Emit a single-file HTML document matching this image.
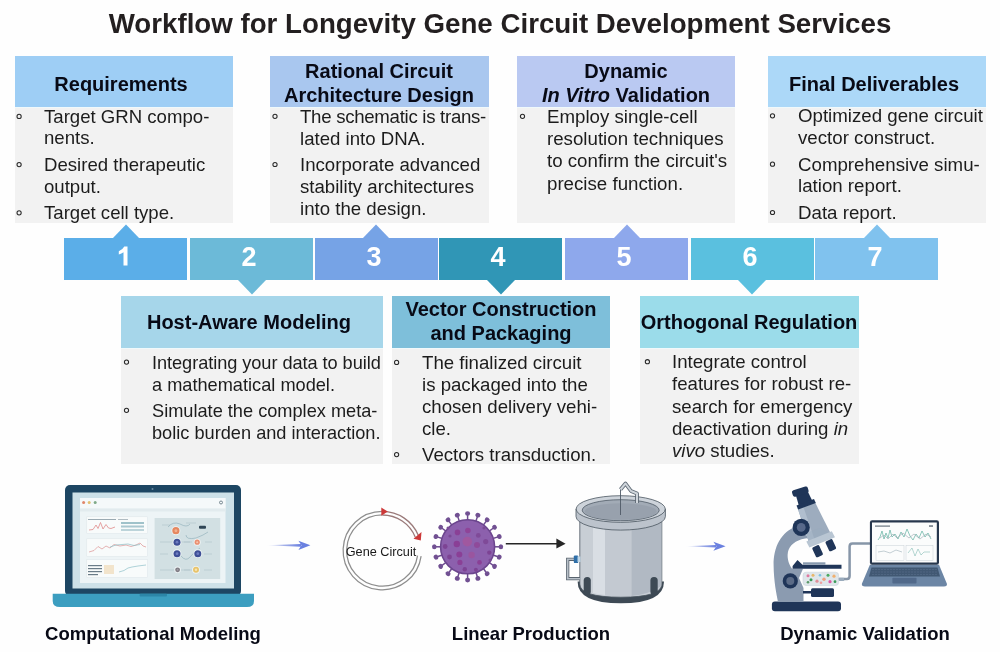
<!DOCTYPE html>
<html><head><meta charset="utf-8"><style>
html,body{margin:0;padding:0;}
body{width:1000px;height:652px;position:relative;overflow:hidden;background:#fefefe;font-family:"Liberation Sans", sans-serif;}
.t{position:absolute;line-height:1;white-space:nowrap;will-change:transform;}
.r{position:absolute;}
.s{position:absolute;overflow:visible;}
.b{position:absolute;width:3.2px;height:3.2px;border:1px solid #2a2a2a;border-radius:50%;}
</style></head><body>
<div class="t" style="left:99.50px;width:800px;text-align:center;top:10.35px;font-size:27.7px;font-weight:700;color:#231f20;">Workflow for Longevity Gene Circuit Development Services</div><div class="r" style="left:14.5px;top:56.3px;width:218.00px;height:50.70px;background:#9ecef5;"></div><div class="r" style="left:14.5px;top:107px;width:218.00px;height:116.20px;background:#f2f2f2;"></div><div class="r" style="left:14.5px;top:106.6px;width:218.00px;height:1.60px;background:rgba(240,250,253,0.85);"></div><div class="t" style="left:-279.30px;width:800px;text-align:center;top:73.67px;font-size:20px;font-weight:700;color:#080a16;">Requirements</div><div class="t" style="left:44.00px;top:107.85px;font-size:18.6px;font-weight:400;color:#1c1c1c;">Target GRN compo-</div><div class="t" style="left:44.00px;top:129.45px;font-size:18.6px;font-weight:400;color:#1c1c1c;">nents.</div><div class="t" style="left:44.00px;top:156.05px;font-size:18.6px;font-weight:400;color:#1c1c1c;">Desired therapeutic</div><div class="t" style="left:44.00px;top:177.65px;font-size:18.6px;font-weight:400;color:#1c1c1c;">output.</div><div class="t" style="left:44.00px;top:204.25px;font-size:18.6px;font-weight:400;color:#1c1c1c;">Target cell type.</div><div class="r" style="left:270px;top:56.3px;width:218.50px;height:50.70px;background:#a9c7ef;"></div><div class="r" style="left:270px;top:107px;width:218.50px;height:116.20px;background:#f2f2f2;"></div><div class="r" style="left:270px;top:106.6px;width:218.50px;height:1.60px;background:rgba(240,250,253,0.85);"></div><div class="t" style="left:-20.75px;width:800px;text-align:center;top:60.57px;font-size:20px;font-weight:700;color:#080a16;">Rational Circuit</div><div class="t" style="left:-20.75px;width:800px;text-align:center;top:84.57px;font-size:20px;font-weight:700;color:#080a16;">Architecture Design</div><div class="t" style="left:299.50px;top:107.71px;font-size:18.65px;font-weight:400;color:#1c1c1c;letter-spacing:-0.29px;">The schematic is trans-</div><div class="t" style="left:299.50px;top:129.81px;font-size:18.65px;font-weight:400;color:#1c1c1c;">lated into DNA.</div><div class="t" style="left:299.50px;top:155.91px;font-size:18.65px;font-weight:400;color:#1c1c1c;">Incorporate advanced</div><div class="t" style="left:299.50px;top:178.01px;font-size:18.65px;font-weight:400;color:#1c1c1c;">stability architectures</div><div class="t" style="left:299.50px;top:200.11px;font-size:18.65px;font-weight:400;color:#1c1c1c;">into the design.</div><div class="r" style="left:517px;top:56.3px;width:218.00px;height:50.70px;background:#bac9f2;"></div><div class="r" style="left:517px;top:107px;width:218.00px;height:116.20px;background:#f2f2f2;"></div><div class="r" style="left:517px;top:106.6px;width:218.00px;height:1.60px;background:rgba(240,250,253,0.85);"></div><div class="t" style="left:226.00px;width:800px;text-align:center;top:60.57px;font-size:20px;font-weight:700;color:#080a16;">Dynamic</div><div class="t" style="left:226.00px;width:800px;text-align:center;top:84.57px;font-size:20px;font-weight:700;color:#080a16;"><i>In Vitro</i> Validation</div><div class="t" style="left:546.50px;top:107.67px;font-size:18.7px;font-weight:400;color:#1c1c1c;">Employ single-cell</div><div class="t" style="left:546.50px;top:129.97px;font-size:18.7px;font-weight:400;color:#1c1c1c;">resolution techniques</div><div class="t" style="left:546.50px;top:152.27px;font-size:18.7px;font-weight:400;color:#1c1c1c;">to confirm the circuit's</div><div class="t" style="left:546.50px;top:174.57px;font-size:18.7px;font-weight:400;color:#1c1c1c;">precise function.</div><div class="r" style="left:768px;top:56.3px;width:218.30px;height:50.70px;background:#acd8f8;"></div><div class="r" style="left:768px;top:107px;width:218.30px;height:116.20px;background:#f2f2f2;"></div><div class="r" style="left:768px;top:106.6px;width:218.30px;height:1.60px;background:rgba(240,250,253,0.85);"></div><div class="t" style="left:474.35px;width:800px;text-align:center;top:73.67px;font-size:20px;font-weight:700;color:#080a16;">Final Deliverables</div><div class="t" style="left:797.50px;top:107.17px;font-size:18.7px;font-weight:400;color:#1c1c1c;">Optimized gene circuit</div><div class="t" style="left:797.50px;top:128.97px;font-size:18.7px;font-weight:400;color:#1c1c1c;">vector construct.</div><div class="t" style="left:797.50px;top:155.52px;font-size:18.7px;font-weight:400;color:#1c1c1c;">Comprehensive simu-</div><div class="t" style="left:797.50px;top:177.32px;font-size:18.7px;font-weight:400;color:#1c1c1c;">lation report.</div><div class="t" style="left:797.50px;top:203.87px;font-size:18.7px;font-weight:400;color:#1c1c1c;">Data report.</div><div class="r" style="left:64px;top:237.6px;width:123.00px;height:42.60px;background:#5baee8;"></div><svg class="s" style="left:111.50px;top:223.5px" width="28" height="15"><polygon points="0,15 14,0.5 28,15" fill="#5baee8"/></svg><svg class="s" style="left:0;top:0" width="200" height="300"><path d="M124.3,246.4 H127.5 V265.5 H123.5 V252.3 Q121.6,253.8 118.8,254.6 V251.2 Q122.6,249.6 124.3,246.4 Z" fill="#ffffff"/></svg><div class="r" style="left:190px;top:237.6px;width:123.00px;height:42.60px;background:#6cbad8;"></div><svg class="s" style="left:237.50px;top:280px" width="28" height="15"><polygon points="0,0 14,14.5 28,0" fill="#6cbad8"/></svg><div class="t" style="left:-150.80px;width:800px;text-align:center;top:243.64px;font-size:27px;font-weight:700;color:#ffffff;">2</div><div class="r" style="left:314.5px;top:237.6px;width:123.00px;height:42.60px;background:#76a3e6;"></div><svg class="s" style="left:362.00px;top:223.5px" width="28" height="15"><polygon points="0,15 14,0.5 28,15" fill="#76a3e6"/></svg><div class="t" style="left:-26.30px;width:800px;text-align:center;top:243.64px;font-size:27px;font-weight:700;color:#ffffff;">3</div><div class="r" style="left:439.2px;top:237.6px;width:123.00px;height:42.60px;background:#3096b6;"></div><svg class="s" style="left:486.70px;top:280px" width="28" height="15"><polygon points="0,0 14,14.5 28,0" fill="#3096b6"/></svg><div class="t" style="left:98.40px;width:800px;text-align:center;top:243.64px;font-size:27px;font-weight:700;color:#ffffff;">4</div><div class="r" style="left:565px;top:237.6px;width:123.00px;height:42.60px;background:#8ea8ec;"></div><svg class="s" style="left:612.50px;top:223.5px" width="28" height="15"><polygon points="0,15 14,0.5 28,15" fill="#8ea8ec"/></svg><div class="t" style="left:224.20px;width:800px;text-align:center;top:243.64px;font-size:27px;font-weight:700;color:#ffffff;">5</div><div class="r" style="left:690.5px;top:237.6px;width:123.00px;height:42.60px;background:#5ac0df;"></div><svg class="s" style="left:738.00px;top:280px" width="28" height="15"><polygon points="0,0 14,14.5 28,0" fill="#5ac0df"/></svg><div class="t" style="left:349.70px;width:800px;text-align:center;top:243.64px;font-size:27px;font-weight:700;color:#ffffff;">6</div><div class="r" style="left:815.3px;top:237.6px;width:123.00px;height:42.60px;background:#80c2ee;"></div><svg class="s" style="left:862.80px;top:223.5px" width="28" height="15"><polygon points="0,15 14,0.5 28,15" fill="#80c2ee"/></svg><div class="t" style="left:474.50px;width:800px;text-align:center;top:243.64px;font-size:27px;font-weight:700;color:#ffffff;">7</div><div class="r" style="left:120.5px;top:296px;width:262.50px;height:52.00px;background:#a6d6ea;"></div><div class="r" style="left:120.5px;top:348px;width:262.50px;height:115.50px;background:#f2f2f2;"></div><div class="r" style="left:120.5px;top:347.9px;width:262.50px;height:1.50px;background:rgba(240,250,253,0.85);"></div><div class="t" style="left:-151.05px;width:800px;text-align:center;top:312.07px;font-size:20px;font-weight:700;color:#080a16;">Host-Aware Modeling</div><div class="t" style="left:151.50px;top:353.89px;font-size:18.2px;font-weight:400;color:#1c1c1c;letter-spacing:-0.06px;">Integrating your data to build</div><div class="t" style="left:151.50px;top:376.09px;font-size:18.2px;font-weight:400;color:#1c1c1c;">a mathematical model.</div><div class="t" style="left:151.50px;top:402.09px;font-size:18.2px;font-weight:400;color:#1c1c1c;">Simulate the complex meta-</div><div class="t" style="left:151.50px;top:424.29px;font-size:18.2px;font-weight:400;color:#1c1c1c;">bolic burden and interaction.</div><div class="r" style="left:392px;top:296px;width:218.00px;height:52.00px;background:#7ebfda;"></div><div class="r" style="left:392px;top:348px;width:218.00px;height:115.50px;background:#f2f2f2;"></div><div class="r" style="left:392px;top:347.9px;width:218.00px;height:1.50px;background:rgba(240,250,253,0.85);"></div><div class="t" style="left:101.00px;width:800px;text-align:center;top:299.27px;font-size:20px;font-weight:700;color:#080a16;">Vector Construction</div><div class="t" style="left:101.00px;width:800px;text-align:center;top:322.77px;font-size:20px;font-weight:700;color:#080a16;">and Packaging</div><div class="t" style="left:421.80px;top:353.81px;font-size:18.65px;font-weight:400;color:#1c1c1c;">The finalized circuit</div><div class="t" style="left:421.80px;top:375.81px;font-size:18.65px;font-weight:400;color:#1c1c1c;">is packaged into the</div><div class="t" style="left:421.80px;top:397.81px;font-size:18.65px;font-weight:400;color:#1c1c1c;">chosen delivery vehi-</div><div class="t" style="left:421.80px;top:419.81px;font-size:18.65px;font-weight:400;color:#1c1c1c;">cle.</div><div class="t" style="left:421.80px;top:446.01px;font-size:18.65px;font-weight:400;color:#1c1c1c;">Vectors transduction.</div><div class="r" style="left:640.2px;top:296px;width:218.50px;height:52.00px;background:#9bdcea;"></div><div class="r" style="left:640.2px;top:348px;width:218.50px;height:115.50px;background:#f2f2f2;"></div><div class="r" style="left:640.2px;top:347.9px;width:218.50px;height:1.50px;background:rgba(240,250,253,0.85);"></div><div class="t" style="left:349.45px;width:800px;text-align:center;top:311.77px;font-size:20px;font-weight:700;color:#080a16;">Orthogonal Regulation</div><div class="t" style="left:672.00px;top:353.11px;font-size:18.65px;font-weight:400;color:#1c1c1c;">Integrate control</div><div class="t" style="left:672.00px;top:375.31px;font-size:18.65px;font-weight:400;color:#1c1c1c;">features for robust re-</div><div class="t" style="left:672.00px;top:397.51px;font-size:18.65px;font-weight:400;color:#1c1c1c;">search for emergency</div><div class="t" style="left:672.00px;top:419.71px;font-size:18.65px;font-weight:400;color:#1c1c1c;">deactivation during <i>in</i></div><div class="t" style="left:672.00px;top:441.91px;font-size:18.65px;font-weight:400;color:#1c1c1c;"><i>vivo</i> studies.</div><div class="t" style="left:-247.00px;width:800px;text-align:center;top:625.34px;font-size:18.5px;font-weight:700;color:#080a16;">Computational Modeling</div><div class="t" style="left:131.00px;width:800px;text-align:center;top:625.34px;font-size:18.5px;font-weight:700;color:#080a16;">Linear Production</div><div class="t" style="left:465.00px;width:800px;text-align:center;top:625.34px;font-size:18.5px;font-weight:700;color:#080a16;">Dynamic Validation</div>
<svg style="position:absolute;left:0;top:0" width="1000" height="652"><g fill="none" stroke="#2a2a2a" stroke-width="1.05"><circle cx="19.10" cy="116.40" r="2.1"/><circle cx="19.10" cy="164.60" r="2.1"/><circle cx="19.10" cy="212.80" r="2.1"/><circle cx="275.00" cy="116.30" r="2.1"/><circle cx="275.00" cy="164.50" r="2.1"/><circle cx="522.50" cy="116.30" r="2.1"/><circle cx="772.50" cy="115.80" r="2.1"/><circle cx="772.50" cy="164.15" r="2.1"/><circle cx="772.50" cy="212.50" r="2.1"/><circle cx="126.50" cy="362.10" r="2.1"/><circle cx="126.50" cy="410.30" r="2.1"/><circle cx="396.60" cy="362.40" r="2.1"/><circle cx="396.60" cy="454.60" r="2.1"/><circle cx="647.40" cy="361.70" r="2.1"/></g></svg>
<svg style="position:absolute;left:0;top:0" width="1000" height="652" viewBox="0 0 1000 652">
<defs>
<linearGradient id="ag" x1="0" x2="1" y1="0" y2="0"><stop offset="0" stop-color="#6a7fdc" stop-opacity="0"/><stop offset="0.5" stop-color="#6a7fdc" stop-opacity="0.6"/><stop offset="1" stop-color="#6a80e0" stop-opacity="1"/></linearGradient>
<radialGradient id="vg" cx="0.5" cy="0.5" r="0.5"><stop offset="0" stop-color="#9466b0"/><stop offset="1" stop-color="#8a5ba8"/></radialGradient>
</defs>
<rect x="65" y="485" width="176" height="111" rx="5" fill="#1d4663"/>
<circle cx="152.5" cy="489" r="1" fill="#6a8aa0"/>
<rect x="72.5" y="492.5" width="161.5" height="96" fill="#cde1e8"/>
<rect x="80" y="498" width="145.5" height="85" fill="#edf4f6"/>
<rect x="80" y="498" width="145.5" height="10.5" fill="#f5f9fa"/>
<rect x="80" y="508.5" width="145.5" height="3" fill="#e2ebee"/>
<circle cx="83.6" cy="502.6" r="1.5" fill="#e0866a"/><circle cx="89.2" cy="502.6" r="1.5" fill="#e3c070"/><circle cx="95.2" cy="502.6" r="1.5" fill="#7faa88"/>
<circle cx="221" cy="502.5" r="1.5" fill="none" stroke="#5a6f7a" stroke-width="0.8"/>
<rect x="86.8" y="516.8" width="60.5" height="16.5" fill="#f8fbfb" stroke="#dde6e9" stroke-width="0.5"/>
<rect x="86.8" y="538.8" width="60.5" height="17.6" fill="#f8fbfb" stroke="#dde6e9" stroke-width="0.5"/>
<rect x="86.8" y="559.7" width="60.5" height="17.6" fill="#f8fbfb" stroke="#dde6e9" stroke-width="0.5"/>
<rect x="88" y="519" width="28" height="1" fill="#9aaab2"/><rect x="118" y="519" width="10" height="1" fill="#b0bcc2"/>
<polyline points="89,530 93,529.5 96,525 98,528.5 100.5,522.5 103,529 106,524.5 108.5,528 111,528.5 115,527" fill="none" stroke="#e08a8a" stroke-width="0.8"/>
<rect x="121" y="522" width="23" height="2" fill="#9fc2ca"/><rect x="121" y="525.5" width="23" height="2" fill="#a9c8d0"/><rect x="121" y="529" width="23" height="2" fill="#bcd4da"/>
<polyline points="89,552 94,550.5 98,546.5 102,549 106,546 110,548 114,544.5 120,546 126,545 131,546.5 136,545 140,543 143,546 146,547" fill="none" stroke="#e0a0a0" stroke-width="0.8"/>
<polyline points="110,547 116,545 122,544.5 128,544 134,545.5 140,544.5" fill="none" stroke="#8cbec6" stroke-width="0.7"/>
<rect x="88" y="565" width="14" height="1.2" fill="#6a7c88"/><rect x="88" y="568" width="14" height="1.2" fill="#6a7c88"/><rect x="88" y="571" width="14" height="1.2" fill="#6a7c88"/><rect x="88" y="574" width="10" height="1.2" fill="#6a7c88"/><rect x="104" y="565" width="10" height="9" fill="#f2e4cc"/>
<polyline points="119,572 124,570.5 128,568 132,567 138,566 146,565" fill="none" stroke="#8ec0c8" stroke-width="0.7"/>
<rect x="154.6" y="518" width="65.6" height="61" fill="#d2e0e3"/>
<path d="M162,525 H170 M186,523 H196 M160,542 H168 M184,542 H192 M205,542 H212 M160,554 H168 M204,554 H212 M160,570 H170 M184,570 H192 M204,570 H212 M170,570 H190 M168,542 H190" stroke="#9fb3ba" stroke-width="0.4"/>
<path d="M168,527 Q173,521 180,524 Q187,528 190,524 M186,535 Q186,540 196,538 Q204,535 208,532 M181,556 Q186,562 190,557 Q194,552 200,548" fill="none" stroke="#7fa3ae" stroke-width="0.5"/>
<circle cx="175.9" cy="530.7" r="4.5" fill="#eef4f5"/><circle cx="175.9" cy="530.7" r="3.6" fill="#e5875f"/><circle cx="175.9" cy="530.7" r="1.44" fill="#f2b08f"/>
<circle cx="177" cy="542.2" r="4.4" fill="#eef4f5"/><circle cx="177" cy="542.2" r="3.5" fill="#3e4f96"/><circle cx="177" cy="542.2" r="1.40" fill="#6d7cc0"/>
<circle cx="197.2" cy="542.2" r="3.5" fill="#eef4f5"/><circle cx="197.2" cy="542.2" r="2.6" fill="#ea8f70"/><circle cx="197.2" cy="542.2" r="1.04" fill="#f6c4ad"/>
<circle cx="177" cy="553.7" r="4.4" fill="#eef4f5"/><circle cx="177" cy="553.7" r="3.5" fill="#3e4f96"/><circle cx="177" cy="553.7" r="1.40" fill="#6d7cc0"/>
<circle cx="197.8" cy="553.7" r="4.4" fill="#eef4f5"/><circle cx="197.8" cy="553.7" r="3.5" fill="#3e4f96"/><circle cx="197.8" cy="553.7" r="1.40" fill="#6d7cc0"/>
<circle cx="177.6" cy="569.8" r="3.3" fill="#eef4f5"/><circle cx="177.6" cy="569.8" r="2.4" fill="#7d7a82"/><circle cx="177.6" cy="569.8" r="0.96" fill="#a09ca4"/>
<circle cx="196" cy="569.8" r="3.9" fill="#eef4f5"/><circle cx="196" cy="569.8" r="3.0" fill="#e8c36a"/><circle cx="196" cy="569.8" r="1.20" fill="#f6e4b4"/>
<rect x="199" y="525.8" width="7" height="3" rx="1" fill="#2f4555"/>
<path d="M52.7,593.8 H254 V601 Q254,607 247,607 H60 Q52.7,607 52.7,601 Z" fill="#3c9ec0"/>
<rect x="139.6" y="593.8" width="27.4" height="2.6" rx="1" fill="#2c86a8"/>
<polygon points="266.4,545.3 301,543.9 301,546.7" fill="url(#ag)"/>
<polygon points="298.4,540.8 310.4,545.3 298.4,549.9 301.5,545.3" fill="#6a80e0"/>
<path d="M421.12,556.06 A39.2,39.2 0 1 1 382.30,511.40" fill="none" stroke="#8e8e8e" stroke-width="1.25"/>
<path d="M382.30,511.40 A39.2,39.2 0 0 1 418.65,535.92" fill="none" stroke="#9a7a7a" stroke-width="1.3"/>
<path d="M417.55,555.55 A35.6,35.6 0 1 1 382.30,515.00" fill="none" stroke="#8e8e8e" stroke-width="1.25"/>
<path d="M382.30,515.00 A35.6,35.6 0 0 1 415.31,537.26" fill="none" stroke="#9a7a7a" stroke-width="1.3"/>
<polygon points="381.3,507.6 387.8,511.6 381.3,515.8" fill="#cc3838"/>
<polygon points="413.5,538.8 421.5,532 420.8,540.5" fill="#cc3838"/>
<text x="381" y="556.3" font-family="Liberation Sans" font-size="12.7" text-anchor="middle" fill="#1a1a1a">Gene Circuit</text>
<line x1="467.60" y1="521.80" x2="467.60" y2="514.80" stroke="#6d4a8f" stroke-width="1.5"/>
<ellipse cx="467.60" cy="513.50" rx="2.3" ry="2.5" transform="rotate(-90.0 467.60 513.50)" fill="#715092"/>
<line x1="475.33" y1="523.02" x2="477.49" y2="516.37" stroke="#6d4a8f" stroke-width="1.5"/>
<ellipse cx="477.89" cy="515.13" rx="2.3" ry="2.5" transform="rotate(-72.0 477.89 515.13)" fill="#715092"/>
<line x1="482.29" y1="526.57" x2="486.41" y2="520.91" stroke="#6d4a8f" stroke-width="1.5"/>
<ellipse cx="487.17" cy="519.86" rx="2.3" ry="2.5" transform="rotate(-54.0 487.17 519.86)" fill="#715092"/>
<line x1="487.83" y1="532.11" x2="493.49" y2="527.99" stroke="#6d4a8f" stroke-width="1.5"/>
<ellipse cx="494.54" cy="527.23" rx="2.3" ry="2.5" transform="rotate(-36.0 494.54 527.23)" fill="#715092"/>
<line x1="491.38" y1="539.07" x2="498.03" y2="536.91" stroke="#6d4a8f" stroke-width="1.5"/>
<ellipse cx="499.27" cy="536.51" rx="2.3" ry="2.5" transform="rotate(-18.0 499.27 536.51)" fill="#715092"/>
<line x1="492.60" y1="546.80" x2="499.60" y2="546.80" stroke="#6d4a8f" stroke-width="1.5"/>
<ellipse cx="500.90" cy="546.80" rx="2.3" ry="2.5" transform="rotate(0.0 500.90 546.80)" fill="#715092"/>
<line x1="491.38" y1="554.53" x2="498.03" y2="556.69" stroke="#6d4a8f" stroke-width="1.5"/>
<ellipse cx="499.27" cy="557.09" rx="2.3" ry="2.5" transform="rotate(18.0 499.27 557.09)" fill="#715092"/>
<line x1="487.83" y1="561.49" x2="493.49" y2="565.61" stroke="#6d4a8f" stroke-width="1.5"/>
<ellipse cx="494.54" cy="566.37" rx="2.3" ry="2.5" transform="rotate(36.0 494.54 566.37)" fill="#715092"/>
<line x1="482.29" y1="567.03" x2="486.41" y2="572.69" stroke="#6d4a8f" stroke-width="1.5"/>
<ellipse cx="487.17" cy="573.74" rx="2.3" ry="2.5" transform="rotate(54.0 487.17 573.74)" fill="#715092"/>
<line x1="475.33" y1="570.58" x2="477.49" y2="577.23" stroke="#6d4a8f" stroke-width="1.5"/>
<ellipse cx="477.89" cy="578.47" rx="2.3" ry="2.5" transform="rotate(72.0 477.89 578.47)" fill="#715092"/>
<line x1="467.60" y1="571.80" x2="467.60" y2="578.80" stroke="#6d4a8f" stroke-width="1.5"/>
<ellipse cx="467.60" cy="580.10" rx="2.3" ry="2.5" transform="rotate(90.0 467.60 580.10)" fill="#715092"/>
<line x1="459.87" y1="570.58" x2="457.71" y2="577.23" stroke="#6d4a8f" stroke-width="1.5"/>
<ellipse cx="457.31" cy="578.47" rx="2.3" ry="2.5" transform="rotate(108.0 457.31 578.47)" fill="#715092"/>
<line x1="452.91" y1="567.03" x2="448.79" y2="572.69" stroke="#6d4a8f" stroke-width="1.5"/>
<ellipse cx="448.03" cy="573.74" rx="2.3" ry="2.5" transform="rotate(126.0 448.03 573.74)" fill="#715092"/>
<line x1="447.37" y1="561.49" x2="441.71" y2="565.61" stroke="#6d4a8f" stroke-width="1.5"/>
<ellipse cx="440.66" cy="566.37" rx="2.3" ry="2.5" transform="rotate(144.0 440.66 566.37)" fill="#715092"/>
<line x1="443.82" y1="554.53" x2="437.17" y2="556.69" stroke="#6d4a8f" stroke-width="1.5"/>
<ellipse cx="435.93" cy="557.09" rx="2.3" ry="2.5" transform="rotate(162.0 435.93 557.09)" fill="#715092"/>
<line x1="442.60" y1="546.80" x2="435.60" y2="546.80" stroke="#6d4a8f" stroke-width="1.5"/>
<ellipse cx="434.30" cy="546.80" rx="2.3" ry="2.5" transform="rotate(180.0 434.30 546.80)" fill="#715092"/>
<line x1="443.82" y1="539.07" x2="437.17" y2="536.91" stroke="#6d4a8f" stroke-width="1.5"/>
<ellipse cx="435.93" cy="536.51" rx="2.3" ry="2.5" transform="rotate(198.0 435.93 536.51)" fill="#715092"/>
<line x1="447.37" y1="532.11" x2="441.71" y2="527.99" stroke="#6d4a8f" stroke-width="1.5"/>
<ellipse cx="440.66" cy="527.23" rx="2.3" ry="2.5" transform="rotate(216.0 440.66 527.23)" fill="#715092"/>
<line x1="452.91" y1="526.57" x2="448.79" y2="520.91" stroke="#6d4a8f" stroke-width="1.5"/>
<ellipse cx="448.03" cy="519.86" rx="2.3" ry="2.5" transform="rotate(234.0 448.03 519.86)" fill="#715092"/>
<line x1="459.87" y1="523.02" x2="457.71" y2="516.37" stroke="#6d4a8f" stroke-width="1.5"/>
<ellipse cx="457.31" cy="515.13" rx="2.3" ry="2.5" transform="rotate(252.0 457.31 515.13)" fill="#715092"/>
<circle cx="467.6" cy="546.8" r="27" fill="#8c60ad" stroke="#6c468e" stroke-width="1.6"/>
<circle cx="456.8" cy="544" r="3.2" fill="#8a3f96"/>
<circle cx="467.3" cy="541.6" r="4.8" fill="#a0589f"/>
<circle cx="477" cy="545" r="3.0" fill="#8f4a9a"/>
<circle cx="459.3" cy="554.5" r="3.0" fill="#8a3f96"/>
<circle cx="471.6" cy="555" r="3.2" fill="#9a559f"/>
<circle cx="457.5" cy="532.4" r="2.8" fill="#8a4096"/>
<circle cx="467.9" cy="530.5" r="2.8" fill="#8f4498"/>
<circle cx="478.3" cy="535.4" r="2.4" fill="#7f4a98"/>
<circle cx="485.7" cy="541.6" r="2.6" fill="#7f4a98"/>
<circle cx="445.2" cy="546.5" r="2.4" fill="#7d4394"/>
<circle cx="449.5" cy="557" r="2.4" fill="#7d4394"/>
<circle cx="459.9" cy="562.4" r="2.6" fill="#8a4096"/>
<circle cx="479.5" cy="562.4" r="2.4" fill="#8a4096"/>
<circle cx="489.3" cy="552.6" r="2.2" fill="#7d4394"/>
<circle cx="464.8" cy="569.2" r="2.2" fill="#7d4394"/>
<circle cx="475.9" cy="569.8" r="2.0" fill="#7d4394"/>
<circle cx="450" cy="536" r="1.6" fill="#7a4a96"/>
<circle cx="484" cy="528" r="1.6" fill="#7a4a96"/>
<circle cx="448" cy="528" r="1.5" fill="#7a4a96"/>
<circle cx="490" cy="560" r="1.5" fill="#7a4a96"/>
<line x1="505.8" y1="543.7" x2="558" y2="543.7" stroke="#262626" stroke-width="1.6"/>
<polygon points="556.4,538.6 565.6,543.7 556.4,548.6" fill="#262626"/>
<path d="M577.6,581.5 Q577.6,603.3 620.8,603.3 Q664,603.3 664,581.5 Z" fill="#3e4a55"/>
<path d="M579.8,515 V584 Q579.8,597.2 620.8,597.2 Q661.8,597.2 661.8,584 V515 Z" fill="#c8ced5" stroke="#4a5560" stroke-width="0.8"/>
<path d="M593,520 V593 Q598,594.5 605,595 V520 Z" fill="#d9dee4"/>
<path d="M605,520 V595.5 Q618,596.3 631.5,596 V520 Z" fill="#c3c9d1"/>
<path d="M631.5,520 V596 Q650,594 661.4,586 V520 Z" fill="#b1b9c3"/>
<rect x="583.7" y="576.9" width="7.1" height="18" rx="3.5" fill="#3e4a55"/><rect x="650.4" y="576.9" width="7.3" height="18" rx="3.5" fill="#3e4a55"/>
<path d="M576,509 V516.5 A44.7,13.6 0 0 0 665.4,516.5 V509 Z" fill="#bcc3cc" stroke="#4a5560" stroke-width="0.8"/>
<ellipse cx="620.7" cy="509" rx="44.6" ry="13.3" fill="#cdd3da" stroke="#4a5560" stroke-width="0.8"/>
<ellipse cx="620.7" cy="510.2" rx="38.5" ry="10.5" fill="#a2abb6" stroke="#4f5a66" stroke-width="0.8"/>
<ellipse cx="620.7" cy="511.5" rx="36" ry="8.2" fill="#98a1ad"/>
<line x1="620.5" y1="487" x2="620.5" y2="515" stroke="#4f5a66" stroke-width="0.9"/>
<path d="M620.5,489.5 L625.5,483.5 L631,491 L637,493.5 V503" fill="none" stroke="#5f6a75" stroke-width="3.8" stroke-linejoin="round"/>
<path d="M620.5,489.5 L625.5,483.5 L631,491 L637,493.5 V503" fill="none" stroke="#cfd5db" stroke-width="2.0" stroke-linejoin="round"/>
<path d="M575,559.3 H567.7 V578.7 H580" fill="none" stroke="#58636e" stroke-width="3.2"/>
<path d="M575,559.3 H567.7 V578.7 H580" fill="none" stroke="#b8c0c8" stroke-width="1.6"/>
<rect x="573.8" y="555.4" width="4.5" height="7.7" rx="1.2" fill="#2f6fa8"/><rect x="577.5" y="556.5" width="3" height="5.5" fill="#c0d6e6"/>
<polygon points="685.6,546.2 716,544.9 716,547.5" fill="url(#ag)"/>
<polygon points="713.4,541.8 725.6,546.2 713.4,550.7 716.5,546.2" fill="#6a80e0"/>
<rect x="771.9" y="601.6" width="69.1" height="9.7" rx="3" fill="#1f3558"/>
<path d="M797,526 C781,532 773.4,547 773.6,565 C773.8,582 776.5,594 778,602 L803.5,602 L803.5,588 L799,578 L803,568.8 L792,568.8 C788,563 786.5,556 788.5,550 C791.5,543 798,539 809,538 Z" fill="#8b9bb0"/>
<circle cx="790.3" cy="580.9" r="7.6" fill="#1f3558"/><circle cx="790.3" cy="580.9" r="4" fill="#5b6b86"/>
<rect x="803" y="591" width="9" height="2.5" fill="#1f3558"/><rect x="811" y="588.3" width="23" height="8.7" rx="1.5" fill="#1f3558"/>
<path d="M792.6,568.8 V566 L797.5,560 L802.5,564.7 H841.5 V568.8 Z" fill="#1f3558"/>
<rect x="803" y="562.3" width="22.4" height="2.4" fill="#8799ae"/>
<rect x="803" y="572.2" width="35.6" height="13.3" rx="3" fill="#dfe6ea" stroke="#c5ced8" stroke-width="0.5"/>
<circle cx="808" cy="575.7" r="1.5" fill="#e07aa0"/>
<circle cx="813" cy="575.2" r="1.5" fill="#e8b86a"/>
<circle cx="820" cy="575.2" r="1.3" fill="#7cc0e0"/>
<circle cx="828" cy="575.2" r="1.5" fill="#4caa60"/>
<circle cx="834" cy="576.2" r="1.6" fill="#f0b070"/>
<circle cx="811" cy="579.7" r="1.5" fill="#3a9a58"/>
<circle cx="817" cy="581.2" r="1.6" fill="#e0909a"/>
<circle cx="824" cy="579.2" r="1.7" fill="#f0a080"/>
<circle cx="830" cy="581.7" r="1.6" fill="#e05aa8"/>
<circle cx="835" cy="581.7" r="1.4" fill="#3a9a58"/>
<circle cx="808" cy="582.2" r="1.3" fill="#5a9a68"/>
<circle cx="821" cy="582.7" r="1.3" fill="#f0a0a0"/>
<rect x="838.6" y="577.4" width="5.8" height="3.5" rx="1" fill="#9aabbc"/>
<path d="M844,579 H847 Q849.6,579 849.6,576 V546.5 Q849.6,543.5 852.5,543.5 H870" fill="none" stroke="#8796a8" stroke-width="2.5"/>
<polygon points="797.5,507.8 814.7,501.6 831.3,534.8 809.2,543.3" fill="#9dacbe"/><polygon points="797.5,507.8 803,505.8 815,540.8 809.2,543.3" fill="#b0bece"/>
<polygon points="806,533 820,528 831.3,534.8 809.2,543.3" fill="#9aabbd" opacity="0.5"/>
<polygon points="806.3,541.5 831.8,531.3 835,537.3 809.4,547.5" fill="#b9c6d3"/>
<rect x="-3.8" y="-5.5" width="7.6" height="11" rx="1.5" fill="#1f3558" transform="translate(817.6 551.2) rotate(-25)"/>
<rect x="-3.8" y="-5.5" width="7.6" height="11" rx="1.5" fill="#1f3558" transform="translate(830.8 545.2) rotate(-25)"/>
<polygon points="795.8,495 807.5,491 812.2,500.5 798.8,505.5" fill="#1f3558"/>
<polygon points="796.5,505.5 814,499 815.8,503 798.2,509.5" fill="#1f3558"/>
<rect x="-8.2" y="-3.4" width="16.4" height="6.8" rx="2" fill="#1f3558" transform="translate(800.3 491.6) rotate(-17)"/>
<circle cx="801.2" cy="527.4" r="8.6" fill="#1f3558"/><circle cx="801.2" cy="527.4" r="4.4" fill="#58698a"/>
<path d="M869.9,564.7 H939 L947,584 Q947,586.5 944,586.5 H865 Q861.8,586.5 861.8,584 Z" fill="#6c86a5"/>
<path d="M871.5,567.4 H937.5 L940,576.6 H869 Z" fill="#415873"/>
<line x1="872" y1="569.5" x2="937" y2="569.5" stroke="#5c7390" stroke-width="0.5" stroke-dasharray="2.2 0.8"/>
<line x1="872" y1="572" x2="937" y2="572" stroke="#5c7390" stroke-width="0.5" stroke-dasharray="2.2 0.8"/>
<line x1="872" y1="574.5" x2="937" y2="574.5" stroke="#5c7390" stroke-width="0.5" stroke-dasharray="2.2 0.8"/>
<rect x="892.4" y="577.8" width="24.1" height="5.8" rx="0.8" fill="#51698a"/>
<rect x="869.9" y="520.3" width="69.1" height="44.4" rx="2.2" fill="#26364c"/>
<rect x="872" y="522.5" width="64.8" height="40" fill="#fbfcfc"/>
<rect x="875" y="525.5" width="15" height="1.2" fill="#6a7680"/><rect x="929" y="525.3" width="4" height="1.5" fill="#6a7680"/>
<polyline points="878,540 880,537 882,531 884,539 886,533 888,538 890,530 892,537 895,534 898,539 901,532 904,537 907,529 910,536 913,540 916,534 919,538 922,531 925,537 928,533 931,539" fill="none" stroke="#5fb0a0" stroke-width="0.7"/>
<polyline points="880,538 884,535 888,539 893,534 897,538 903,533 909,538 914,534 920,539 926,534 931,537" fill="none" stroke="#9aa5ae" stroke-width="0.6"/>
<rect x="876" y="545.5" width="28" height="15" fill="none" stroke="#c8d0d6" stroke-width="0.5"/><rect x="906" y="545.5" width="27" height="15" fill="none" stroke="#c8d0d6" stroke-width="0.5"/>
<polyline points="878,552 884,551 890,553 896,550 902,552" fill="none" stroke="#8aa0aa" stroke-width="0.5"/>
<polyline points="908,553 912,548 915,556 918,549 921,555 924,552 930,552" fill="none" stroke="#6fb0a8" stroke-width="0.5"/>
</svg>
</body></html>
